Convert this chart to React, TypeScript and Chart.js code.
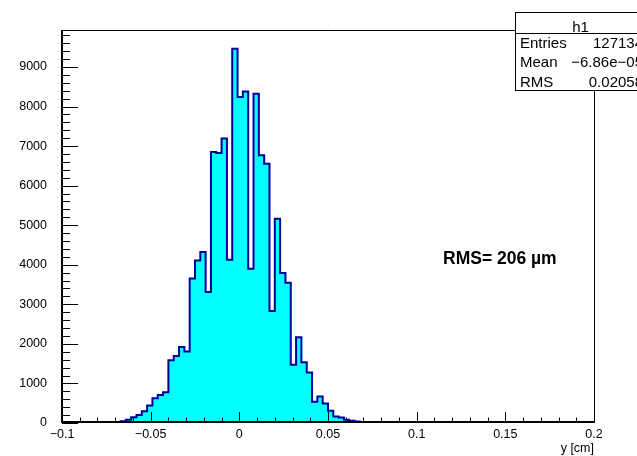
import React, { useEffect, useRef } from "react";
import { Chart, registerables } from "chart.js";

Chart.register(...registerables);

// ---- data ----
const binLow = -0.1;
const binWidth = 0.003;
const binCounts = [
  0, 0, 0, 0, 0, 2, 4, 8, 12, 18,
  25, 45, 85, 147, 200, 298, 440, 625, 705, 775,
  1585, 1695, 1920, 1810, 3650, 4110, 4320, 3310, 6850, 6825,
  7190, 4126, 9461, 8238, 8382, 3900, 8325, 6765, 6555, 2830,
  5165, 3790, 3545, 1475, 2170, 1537, 1275, 540, 670, 495,
  310, 165, 140, 80, 60, 38, 22, 14, 8, 5,
  3, 2, 0, 0, 0, 0, 0, 0, 0, 0,
  0, 0, 0, 0, 0, 0, 0, 0, 0, 0,
  0, 0, 0, 0, 0, 0, 0, 0, 0, 0,
  0, 0, 0, 0, 0, 0, 0, 0, 0, 0,
];
const xMin = -0.1;
const xMax = 0.2;
const xTickValues = [-0.1, -0.05, 0, 0.05, 0.1, 0.15, 0.2];
const xTickLabels = ["\u22120.1", "\u22120.05", "0", "0.05", "0.1", "0.15", "0.2"];
const yTickValues = [0, 1000, 2000, 3000, 4000, 5000, 6000, 7000, 8000, 9000];
const yTickLabels = ["0", "1000", "2000", "3000", "4000", "5000", "6000", "7000", "8000", "9000"];
const xMinorStep = 0.01;
const xMinorPerMajor = 5;
const yMinorStep = 200;
const yMinorPerMajor = 5;
const xTitle = "y [cm]";
const statsTitle = "h1";
const statsLabels = ["Entries", "Mean", "RMS"];
const statsValues = ["127134", "\u22126.86e\u221205", "0.02058"];
const annotationText = "RMS= 206 \u00b5m";

const FONT = "'Liberation Sans', Arial, Helvetica, sans-serif";

const rootPlugin = {
  id: "rootStyle",
  afterDraw(chart: any) {
    const ctx = chart.ctx as CanvasRenderingContext2D;
    const xs = chart.scales.x;
    const ys = chart.scales.y;
    const { left, right, top, bottom } = chart.chartArea;
    ctx.save();
    ctx.strokeStyle = "#000";
    // frame top/right
    ctx.lineWidth = 1;
    ctx.beginPath();
    ctx.moveTo(left, top + 0.5);
    ctx.lineTo(right + 0.5, top + 0.5);
    ctx.lineTo(right + 0.5, bottom);
    ctx.stroke();
    // ticks
    ctx.beginPath();
    const nx = Math.round((xMax - xMin) / xMinorStep);
    for (let i = 0; i <= nx; i++) {
      const v = xMin + i * xMinorStep;
      const px = Math.round(xs.getPixelForValue(v)) + 0.5;
      const len = i % xMinorPerMajor === 0 ? 11 : 5.5;
      ctx.moveTo(px, bottom);
      ctx.lineTo(px, bottom - len);
    }
    const ny = Math.floor(ys.max / yMinorStep);
    for (let i = 0; i <= ny; i++) {
      const v = i * yMinorStep;
      const py = Math.round(ys.getPixelForValue(v)) + 0.5;
      const len = i % yMinorPerMajor === 0 ? 16 : 8;
      ctx.moveTo(left, py);
      ctx.lineTo(left + len, py);
    }
    ctx.stroke();
    // axes (thicker)
    ctx.lineWidth = 2;
    ctx.beginPath();
    ctx.moveTo(left, top);
    ctx.lineTo(left, bottom - 1);
    ctx.lineTo(right + 1, bottom - 1);
    ctx.stroke();

    // annotation
    ctx.fillStyle = "#000";
    ctx.font = "bold 17.5px " + FONT;
    ctx.textAlign = "left";
    ctx.textBaseline = "alphabetic";
    ctx.fillText(annotationText, 443, 263.5);

    // stats box
    const bx = 515.5, by = 12.5, bw = 130, bh = 78;
    ctx.fillStyle = "#fff";
    ctx.fillRect(bx, by, bw, bh);
    ctx.lineWidth = 1;
    ctx.strokeStyle = "#000";
    ctx.strokeRect(bx, by, bw, bh);
    ctx.beginPath();
    ctx.moveTo(bx, 33.5);
    ctx.lineTo(bx + bw, 33.5);
    ctx.stroke();
    ctx.fillStyle = "#000";
    ctx.font = "15px " + FONT;
    ctx.textAlign = "center";
    ctx.fillText(statsTitle, bx + bw / 2, 31.5);
    const baselines = [48, 67, 86.5];
    statsLabels.forEach((lab, i) => {
      ctx.textAlign = "left";
      ctx.fillText(lab, 520, baselines[i]);
      ctx.textAlign = "right";
      ctx.fillText(statsValues[i], 643, baselines[i]);
    });
    ctx.restore();
  },
};

export default function App() {
  const ref = useRef<HTMLCanvasElement | null>(null);
  useEffect(() => {
    if (!ref.current) return;
    const points = binCounts.map((v, i) => ({ x: binLow + i * binWidth, y: v }));
    points.push({ x: binLow + binCounts.length * binWidth, y: binCounts[binCounts.length - 1] });
    const yTop = Math.max(...binCounts) * 1.05;
    const chart = new Chart(ref.current, {
      type: "line",
      data: {
        datasets: [
          {
            data: points,
            stepped: "before",
            borderColor: "#000099",
            borderWidth: 2,
            backgroundColor: "#00ffff",
            fill: "origin",
            pointRadius: 0,
            tension: 0,
          },
        ],
      },
      options: {
        animation: false,
        responsive: false,
        devicePixelRatio: 1,
        layout: { padding: { top: 30, right: 43, left: 0, bottom: 0 } },
        plugins: { legend: { display: false }, tooltip: { enabled: false } },
        scales: {
          x: {
            type: "linear",
            min: xMin,
            max: xMax,
            grid: { display: false },
            border: { display: false },
            afterBuildTicks: (s: any) => {
              s.ticks = xTickValues.map((v) => ({ value: v }));
            },
            ticks: {
              autoSkip: false,
              maxRotation: 0,
              padding: -4,
              color: "#000",
              font: { family: FONT, size: 12.5 },
              callback: (_v: any, i: number) => xTickLabels[i],
            },
            title: {
              display: true,
              text: xTitle,
              align: "end",
              color: "#000",
              font: { family: FONT, size: 12.5 },
              padding: { top: 0, bottom: 0 },
            },
            afterFit: (s: any) => {
              s.height = 33;
            },
          },
          y: {
            min: 0,
            max: yTop,
            grid: { display: false },
            border: { display: false },
            afterBuildTicks: (s: any) => {
              s.ticks = yTickValues.map((v) => ({ value: v }));
            },
            ticks: {
              padding: 7,
              color: "#000",
              font: { family: FONT, size: 12.5 },
              callback: (_v: any, i: number) => yTickLabels[i],
            },
            afterFit: (s: any) => {
              s.width = 62;
            },
          },
        },
      },
      plugins: [rootPlugin],
    });
    return () => chart.destroy();
  }, []);
  return (
    <div style={{ position: "absolute", left: 0, top: 0, width: 637, height: 456, background: "#fff" }}>
      <canvas ref={ref} width={637} height={456} style={{ display: "block" }} />
    </div>
  );
}
